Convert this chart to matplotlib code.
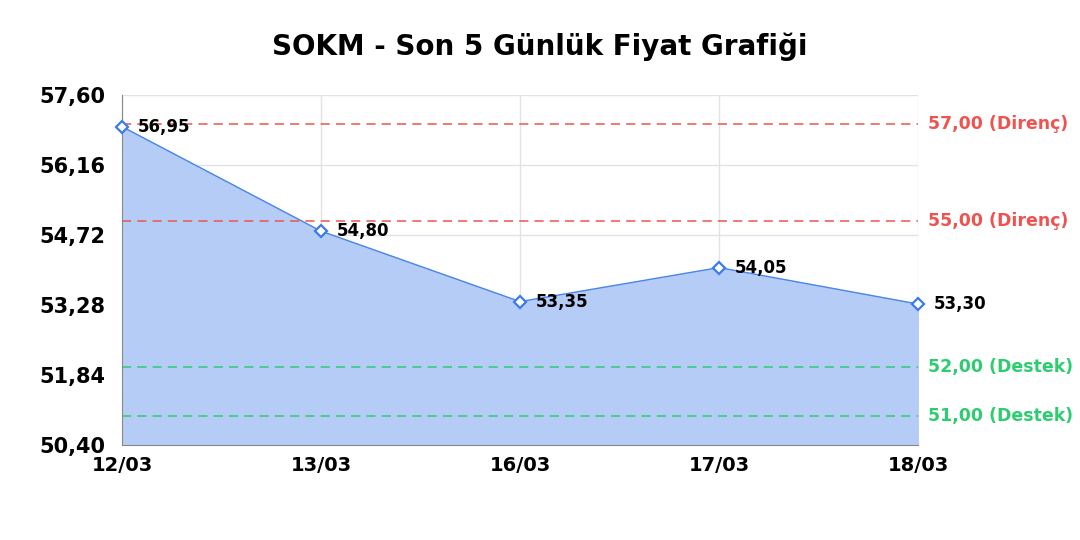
import matplotlib
matplotlib.use("Agg")
import matplotlib.pyplot as plt

plt.rcParams["font.family"] = ["DejaVu Sans"]

dates = ["12/03", "13/03", "16/03", "17/03", "18/03"]
prices = [56.95, 54.80, 53.35, 54.05, 53.30]
resist = [57.00, 55.00]
support = [52.00, 51.00]
yticks = [50.40, 51.84, 53.28, 54.72, 56.16, 57.60]

def tr(v):
    return f"{v:.2f}".replace(".", ",")

fig = plt.figure(figsize=(10.8, 5.4), dpi=100)
ax = fig.add_axes([0.113, 0.176, 0.737, 0.648])
x = list(range(len(dates)))

ax.fill_between(x, prices, yticks[0], color="#b5cdf6", zorder=1)
ax.plot(x, prices, color="#4a86e8", lw=1, zorder=3)
ax.plot(x, prices, ls="none", marker="D", ms=6, mfc="white", mec="#3b7be8", mew=1.6, zorder=4, clip_on=False)

for xi, p in zip(x, prices):
    ax.text(xi + 0.08, p, tr(p), fontsize=12, fontweight="bold", va="center", ha="left", zorder=5)

for r in resist:
    ax.axhline(r, color="#ef5350", ls=(0, (6, 4)), lw=1.1, zorder=2)
    ax.text(1.013, (r - yticks[0]) / (yticks[-1] - yticks[0]), tr(r) + " (Direnç)", transform=ax.transAxes,
            color="#ef5350", fontsize=12.5, fontweight="bold", va="center", ha="left")
for s in support:
    ax.axhline(s, color="#2ecc71", ls=(0, (6, 4)), lw=1.1, zorder=2)
    ax.text(1.013, (s - yticks[0]) / (yticks[-1] - yticks[0]), tr(s) + " (Destek)", transform=ax.transAxes,
            color="#2ecc71", fontsize=12.5, fontweight="bold", va="center", ha="left")

ax.set_xlim(0, len(dates) - 1)
ax.set_ylim(yticks[0], yticks[-1])
ax.set_xticks(x)
ax.set_xticklabels(dates, fontsize=14, fontweight="bold")
ax.set_yticks(yticks)
ax.set_yticklabels([tr(v) for v in yticks], fontsize=15, fontweight="bold")
ax.tick_params(axis="x", length=0, pad=8)
ax.tick_params(axis="y", length=0, pad=12)
ax.grid(True, color="#e3e3e3", lw=1, zorder=0)
ax.set_axisbelow(True)
for s in ["top", "right"]:
    ax.spines[s].set_visible(False)
ax.spines["left"].set_color("#888888")
ax.spines["bottom"].set_color("#888888")

fig.suptitle("SOKM - Son 5 Günlük Fiyat Grafiği", fontsize=20, fontweight="bold", y=0.94)
fig.savefig("out.png", dpi=100)
